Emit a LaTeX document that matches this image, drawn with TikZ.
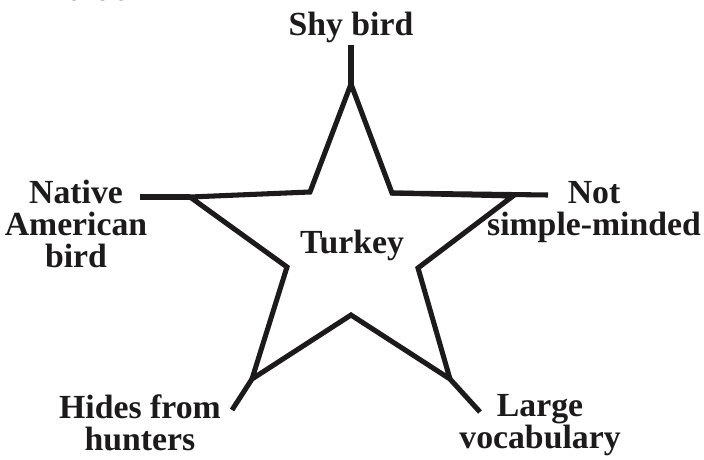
\documentclass[tikz,border=0pt]{standalone}
\usepackage{fontspec}
\setmainfont{Liberation Serif}
\usepackage{xcolor}
\usetikzlibrary{positioning}
\definecolor{inkblack}{HTML}{1C1A1B}
\tikzset{
  starline/.style={draw=inkblack, line width=3.6pt, line join=miter},
  spoke/.style={draw=inkblack, line width=3.6pt},
  trait/.style={align=center, font=\fontsize{24}{22.7}\selectfont\bfseries, text=inkblack, inner sep=0pt},
  centre/.style={font=\fontsize{24}{22.7}\selectfont\bfseries, text=inkblack, inner sep=0pt}
}

\begin{document}
\begin{tikzpicture}[x=0.025cm, y=-0.025cm]
  \useasboundingbox (0,0) rectangle (704,460);

  % star points
  \coordinate (tip-top) at (351,84);
  \coordinate (tip-left) at (190,197);
  \coordinate (tip-right) at (513,196);
  \coordinate (tip-botleft) at (252,379);
  \coordinate (tip-botright) at (450,379);
  \coordinate (in-topleft) at (310,192);
  \coordinate (in-topright) at (392,193);
  \coordinate (in-right) at (418,268);
  \coordinate (in-bottom) at (351,315);
  \coordinate (in-left) at (287,267);

  \draw[starline] (tip-top) -- (in-topright) -- (tip-right) -- (in-right) -- (tip-botright)
    -- (in-bottom) -- (tip-botleft) -- (in-left) -- (tip-left) -- (in-topleft) -- cycle;

  % spoke ends
  \coordinate (end-top) at (351,45);
  \coordinate (end-left) at (140,197);
  \coordinate (end-right) at (548,195);
  \coordinate (end-botleft) at (232,410);
  \coordinate (end-botright) at (480,412);

  \draw[spoke] (tip-top) -- (end-top);
  \draw[spoke] (tip-left) -- (end-left);
  \draw[spoke] (in-topright) -- (end-right);
  \draw[spoke] (tip-botleft) -- (end-botleft);
  \draw[spoke] (tip-botright) -- (end-botright);

  % labels (base = last line)
  \node[trait, anchor=base] (cut) at (96,1) {that};
  \node[trait, anchor=base] (shy) at (351,35) {Shy bird};
  \node[trait, anchor=base] (native) at (76,267) {Native\\American\\bird};
  \node[trait, anchor=base] (smart) at (594,235) {Not\\simple-minded};
  \node[trait, anchor=base] (hides) at (140,450) {Hides from\\hunters};
  \node[trait, anchor=base] (vocab) at (540,448) {Large\\vocabulary};
  \node[centre, anchor=base] (turkey) at (352,253) {Turkey};
\end{tikzpicture}
\end{document}
